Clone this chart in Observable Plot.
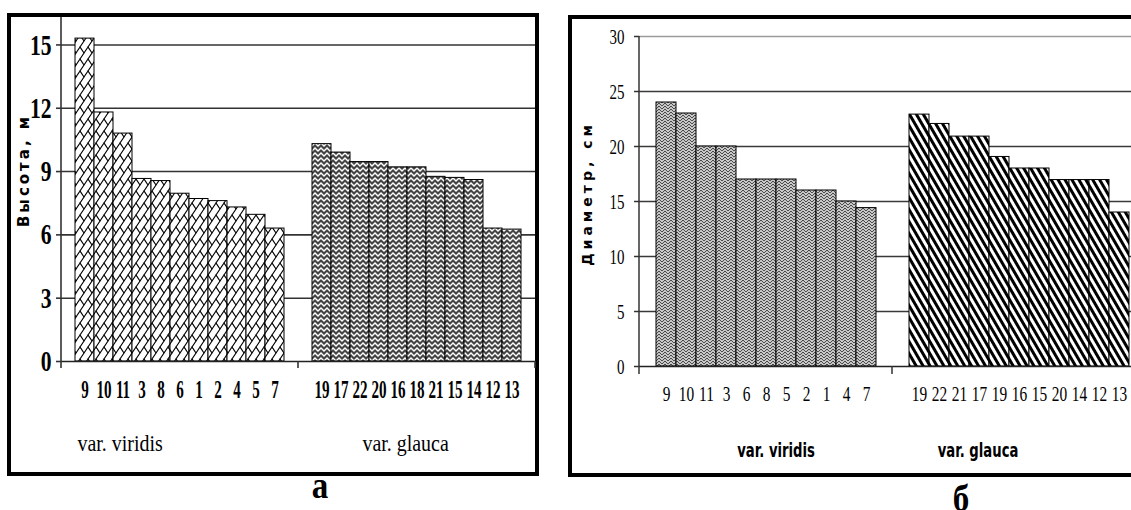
<!DOCTYPE html>
<html>
<head>
<meta charset="utf-8">
<script src="https://cdn.jsdelivr.net/npm/d3@7"></script>
<script src="https://cdn.jsdelivr.net/npm/@observablehq/plot@0.6"></script>
<style>
html, body { margin: 0; padding: 0; background: #fff; width: 1131px; height: 510px; overflow: hidden; }
#wrap { position: relative; width: 1131px; height: 510px; overflow: hidden; }
.panel { position: absolute; border: 4px solid #000; background: #fff; }
#pa { left: 7px; top: 13px; width: 524px; height: 455px; }
#pb { left: 568px; top: 15px; width: 580px; height: 454px; }
.panel svg { display: block; }
.letter { position: absolute; width: 60px; text-align: center; font: bold 38px/1 "Liberation Serif", serif; transform: scaleX(0.87); }
</style>
</head>
<body>
<svg width="0" height="0" style="position:absolute">
  <defs>
    <pattern id="brick" patternUnits="userSpaceOnUse" width="8" height="12">
      <rect width="8" height="12" fill="#fff"/>
      <path d="M-1,13.5 L9,-1.5 M3.6,5.4 L8.4,12.6 M-0.4,-0.6 L0.4,0.6" fill="none" stroke="#000" stroke-width="1.1"/>
    </pattern>
    <pattern id="zigzag" patternUnits="userSpaceOnUse" width="6" height="5">
      <rect width="6" height="5" fill="#444"/>
      <path d="M-3,4 L0,1 L3,4 L6,1 L9,4" fill="none" stroke="#fff" stroke-width="1.4"/>
    </pattern>
    <pattern id="herring" patternUnits="userSpaceOnUse" width="6" height="3">
      <rect width="6" height="3" fill="#fff"/>
      <path d="M-3,0 L0,3 L3,0 L6,3 L9,0 M-3,-3 L0,0 L3,-3 L6,0 L9,-3 M-3,3 L0,6 L3,3 L6,6 L9,3" fill="none" stroke="#444" stroke-width="1.1"/>
    </pattern>
    <pattern id="stripes" patternUnits="userSpaceOnUse" width="6" height="10" patternTransform="rotate(-30)">
      <rect width="6" height="10" fill="#fff"/>
      <rect width="3" height="10" fill="#000"/>
    </pattern>
  </defs>
</svg>
<div id="wrap">
  <div class="panel" id="pa"></div>
  <div class="panel" id="pb"></div>
  <div class="letter" style="left:290px;top:466px;">а</div>
  <div class="letter" style="left:931px;top:479px;">б</div>
</div>
<script>
// ---- data ----
const groups = ["var. viridis", "var. glauca"];

const heightTicks = [0, 3, 6, 9, 12, 15];
const heightViridisTrees = ["9", "10", "11", "3", "8", "6", "1", "2", "4", "5", "7"];
const heightViridis = [15.3, 11.8, 10.8, 8.65, 8.55, 7.95, 7.7, 7.6, 7.3, 6.95, 6.3];
const heightGlaucaTrees = ["19", "17", "22", "20", "16", "18", "21", "15", "14", "12", "13"];
const heightGlauca = [10.3, 9.9, 9.45, 9.45, 9.2, 9.2, 8.75, 8.7, 8.6, 6.3, 6.25];

const diamTicks = [0, 5, 10, 15, 20, 25, 30];
const diamViridisTrees = ["9", "10", "11", "3", "6", "8", "5", "2", "1", "4", "7"];
const diamViridis = [24, 23, 20, 20, 17, 17, 17, 16, 16, 15, 14.4];
const diamGlaucaTrees = ["19", "22", "21", "17", "19", "16", "15", "20", "14", "12", "13"];
const diamGlauca = [22.9, 22.05, 20.9, 20.9, 19.05, 18, 18, 16.95, 16.95, 16.95, 14];

const heightLabel = "Высота, м";
const diamLabel = "Диаметр, см";

function rows(ids, values, group) {
  return ids.map((id, i) => ({group, i, id, value: values[i]}));
}
const hv = rows(heightViridisTrees, heightViridis, groups[0]);
const hg = rows(heightGlaucaTrees, heightGlauca, groups[1]);
const dv = rows(diamViridisTrees, diamViridis, groups[0]);
const dg = rows(diamGlaucaTrees, diamGlauca, groups[1]);

// ---- helpers ----
function texts(svg, sel) {
  return Array.from(svg.querySelectorAll(sel));
}
function squeeze(list, k) {
  list.forEach(t => {
    let tr = t.getAttribute("transform");
    if (!tr) {
      const x = parseFloat(t.getAttribute("x")) || 0;
      t.removeAttribute("x");
      tr = `translate(${x},0)`;
    }
    t.setAttribute("transform", `${tr} scale(${k},1)`);
  });
}
function decorate(svg, tickLen, stroke, sw) {
  const fx = svg.scale("fx"), y = svg.scale("y");
  const y0 = y.apply(0), yTop = y.apply(y.domain[1]);
  const g = d3.select(svg).append("g").attr("stroke", stroke).attr("stroke-width", sw);
  const xStart = fx.apply(groups[0]);
  g.append("line").attr("x1", xStart).attr("x2", xStart).attr("y1", yTop).attr("y2", y0 + tickLen);
  const bounds = groups.slice(1).map(d => fx.apply(d));
  bounds.push(fx.apply(groups[groups.length - 1]) + fx.bandwidth);
  for (const b of bounds) {
    g.append("line").attr("x1", b).attr("x2", b).attr("y1", y0).attr("y2", y0 + tickLen);
  }
}

// ---- panel a: height ----
const plotA = Plot.plot({
  width: 524, height: 455,
  marginLeft: 49, marginRight: 0, marginTop: 0, marginBottom: 111,
  style: {fontFamily: "Liberation Serif", background: "transparent", overflow: "visible", color: "#000"},
  fx: {domain: groups, paddingInner: 0, paddingOuter: 0, axis: null, label: null},
  x: {domain: d3.range(11), paddingInner: 0, paddingOuter: 0.65, axis: null},
  y: {domain: [0, 16.3], axis: null},
  marks: [
    Plot.ruleY(heightTicks.filter(t => t > 0), {stroke: "#333", strokeWidth: 1.6}),
    Plot.barY(hv, {fx: "group", x: "i", y: "value", fill: "url(#brick)", stroke: "#000", strokeWidth: 1}),
    Plot.barY(hg, {fx: "group", x: "i", y: "value", fill: "url(#zigzag)", stroke: "#000", strokeWidth: 1}),
    Plot.ruleY([0], {stroke: "#222", strokeWidth: 1.6}),
    Plot.axisY({ticks: heightTicks, anchor: "left", label: null, tickSize: 5, tickPadding: 5, stroke: "#333", strokeWidth: 1.6}),
    Plot.text(hv.concat(hg), {fx: "group", x: "i", text: "id", frameAnchor: "bottom", dy: 28, lineAnchor: "middle",
      fontSize: 26, fontWeight: "bold", fill: "#000"}),
    Plot.text([groups[0]], {fx: [groups[0]], text: d => d, frameAnchor: "bottom-left", textAnchor: "start",
      dx: 16, dy: 82, lineAnchor: "middle", fontSize: 24, fill: "#000"}),
    Plot.text([groups[1]], {fx: [groups[1]], text: d => d, frameAnchor: "bottom-left", textAnchor: "start",
      dx: 64, dy: 82, lineAnchor: "middle", fontSize: 24, fill: "#000"}),
    Plot.text([heightLabel], {fx: [groups[0]], text: d => d, frameAnchor: "left", textAnchor: "middle", rotate: -90, dx: -37, dy: -19,
      fontFamily: "DejaVu Sans", fontWeight: "bold", fontSize: 15, fill: "#000"})
  ]
});
texts(plotA, 'g[aria-label="y-axis tick label"] text').forEach(t => {
  t.style.fontSize = "30px"; t.style.fontWeight = "bold"; t.style.fontFamily = "Liberation Serif";
});
squeeze(texts(plotA, 'g[aria-label="y-axis tick label"] text'), 0.72);
squeeze(texts(plotA, 'g[font-size="26"] text'), 0.58);
squeeze(texts(plotA, 'g[font-size="24"] text'), 0.83);
texts(plotA, 'g[font-size="15"] text').forEach(t => t.setAttribute("letter-spacing", "3"));
decorate(plotA, 7, "#333", 1.6);
document.getElementById("pa").appendChild(plotA);

// ---- panel б: diameter ----
const plotB = Plot.plot({
  width: 580, height: 454,
  marginLeft: 67, marginRight: 7, marginTop: 17, marginBottom: 107,
  style: {fontFamily: "Liberation Serif", background: "transparent", overflow: "visible", color: "#000"},
  fx: {domain: groups, paddingInner: 0, paddingOuter: 0, axis: null, label: null},
  x: {domain: d3.range(11), paddingInner: 0, paddingOuter: 0.75, axis: null},
  y: {domain: [0, 30], axis: null},
  marks: [
    Plot.ruleY(diamTicks.filter(t => t > 0 && t < 30), {stroke: "#3a3a3a", strokeWidth: 1.5}),
    Plot.ruleY([30], {stroke: "#9a9a9a", strokeWidth: 1.5}),
    Plot.barY(dv, {fx: "group", x: "i", y: "value", fill: "url(#herring)", stroke: "#000", strokeWidth: 1}),
    Plot.barY(dg, {fx: "group", x: "i", y: "value", fill: "url(#stripes)", stroke: "#000", strokeWidth: 1}),
    Plot.ruleY([0], {stroke: "#222", strokeWidth: 1.5}),
    Plot.axisY({ticks: diamTicks, anchor: "left", label: null, tickSize: 5, tickPadding: 10, stroke: "#333", strokeWidth: 1.5}),
    Plot.text(dv.concat(dg), {fx: "group", x: "i", text: "id", frameAnchor: "bottom", dy: 27, lineAnchor: "middle",
      fontSize: 22, fill: "#000"}),
    Plot.text([groups[0]], {fx: [groups[0]], text: d => d, frameAnchor: "bottom", dx: 10, dy: 84, lineAnchor: "middle",
      fontFamily: "DejaVu Sans", fontWeight: "bold", fontSize: 20, fill: "#000"}),
    Plot.text([groups[1]], {fx: [groups[1]], text: d => d, frameAnchor: "bottom", dx: -41, dy: 84, lineAnchor: "middle",
      fontFamily: "DejaVu Sans", fontWeight: "bold", fontSize: 20, fill: "#000"}),
    Plot.text([diamLabel], {fx: [groups[0]], text: d => d, frameAnchor: "left", textAnchor: "middle", rotate: -90, dx: -52, dy: -8,
      fontFamily: "DejaVu Sans", fontWeight: "bold", fontSize: 14, fill: "#000"})
  ]
});
texts(plotB, 'g[aria-label="y-axis tick label"] text').forEach(t => {
  t.style.fontSize = "22px"; t.style.fontFamily = "Liberation Serif";
});
squeeze(texts(plotB, 'g[aria-label="y-axis tick label"] text'), 0.68);
squeeze(texts(plotB, 'g[font-size="22"] text'), 0.7);
squeeze(texts(plotB, 'g[font-size="20"] text'), 0.66);
texts(plotB, 'g[font-size="14"] text').forEach(t => t.setAttribute("letter-spacing", "4"));
decorate(plotB, 8, "#333", 1.5);
document.getElementById("pb").appendChild(plotB);
</script>
</body>
</html>
